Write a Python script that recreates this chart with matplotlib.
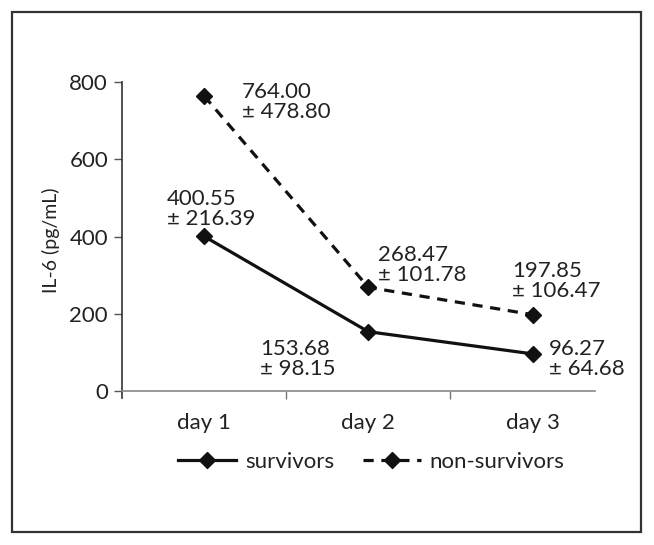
import matplotlib
matplotlib.use("Agg")
import matplotlib.pyplot as plt
from matplotlib.patches import Rectangle

plt.rcParams['font.family'] = ['Lato', 'DejaVu Sans']

days = ["day 1", "day 2", "day 3"]
survivors = [400.55, 153.68, 96.27]
survivors_sd = [216.39, 98.15, 64.68]
non_survivors = [764.00, 268.47, 197.85]
non_survivors_sd = [478.80, 101.78, 106.47]
yticks = [0, 200, 400, 600, 800]

fig = plt.figure(figsize=(6.54, 5.45), dpi=100)
ax = fig.add_axes([0.1865, 0.2697, 0.7232, 0.5798])

x = list(range(len(days)))
ax.plot(x, survivors, color='#111111', lw=2.3, marker='D', ms=8, label='survivors')
ax.plot(x, non_survivors, color='#111111', lw=2.3, ls=(0, (3.2, 2.4)), marker='D', ms=8,
        label='non-survivors')

ax.set_xlim(-0.5, 2.38)
ax.set_ylim(-18, 800)
ax.set_yticks(yticks)
ax.set_yticklabels([str(v) for v in yticks])
ax.set_xticks(x)
ax.set_xticklabels(days)
ax.set_xticks([0.5, 1.5], minor=True)
ax.tick_params(axis='x', which='major', length=0, pad=16, labelsize=16, labelcolor='#222222')
ax.tick_params(axis='x', which='minor', length=6, direction='out', color='#777777', width=1)
ax.tick_params(axis='y', length=6, direction='out', color='#555555', width=1, pad=4,
               labelsize=16, labelcolor='#222222')

for s in ['top', 'right']:
    ax.spines[s].set_visible(False)
ax.spines['bottom'].set_position(('data', 0))
ax.spines['bottom'].set_color('#888888')
ax.spines['bottom'].set_linewidth(1.2)
ax.spines['left'].set_color('#333333')
ax.spines['left'].set_linewidth(1.2)

ax.set_ylabel('IL-6 (pg/mL)', fontsize=14, color='#222222', labelpad=7)

def lab(m, sd):
    return f"{m:.2f}\n\u00b1 {sd:.2f}"

fs = 16
common = dict(textcoords='offset points', fontsize=fs, linespacing=1.0, color='#222222',
              ha='left')
ax.annotate(lab(non_survivors[0], non_survivors_sd[0]), (0, non_survivors[0]),
            xytext=(27, 10), va='top', **common)
ax.annotate(lab(survivors[0], survivors_sd[0]), (0, survivors[0]),
            xytext=(-27, 5), va='bottom', **common)
ax.annotate(lab(non_survivors[1], non_survivors_sd[1]), (1, non_survivors[1]),
            xytext=(7, 2), va='bottom', **common)
ax.annotate(lab(non_survivors[2], non_survivors_sd[2]), (2, non_survivors[2]),
            xytext=(-15, 10), va='bottom', **common)
ax.annotate(lab(survivors[1], survivors_sd[1]), (1, survivors[1]),
            xytext=(-78, -5), va='top', **common)
ax.annotate(lab(survivors[2], survivors_sd[2]), (2, survivors[2]),
            xytext=(12, -4), va='center', **common)

handles, labels = ax.get_legend_handles_labels()
fig.legend(handles, labels, loc='center', bbox_to_anchor=(0.568, 0.152), ncol=2,
           frameon=False, fontsize=16, handlelength=2.6, columnspacing=1.3,
           handletextpad=0.4, labelcolor='#222222')

fig.patches.append(Rectangle((12/654, 13/545), 629/654, 520/545, transform=fig.transFigure,
                             fill=False, edgecolor='#333333', lw=1.6))

fig.savefig('out.png', dpi=100)
